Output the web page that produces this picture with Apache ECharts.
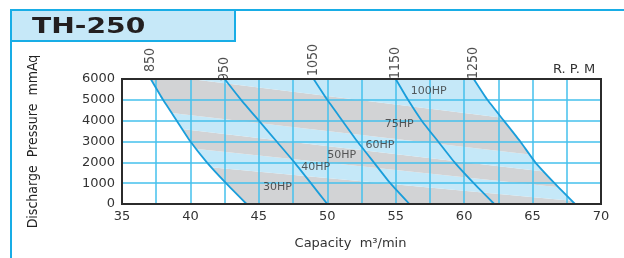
<!DOCTYPE html>
<html>
<head>
<meta charset="utf-8">
<script src="https://cdn.jsdelivr.net/npm/echarts@6/dist/echarts.min.js"></script>
<style>
  html, body { margin: 0; padding: 0; background: #fff; }
  #chart { width: 624px; height: 258px; }
</style>
</head>
<body>
<div id="chart"></div>
<script>
// fan curves: capacity (m3/min) at each discharge pressure (mmAq)
var pressure = [6000, 5000, 4000, 3000, 2000, 1000, 0];
var rpmNames = ['850', '950', '1050', '1150', '1250'];
var cap850 = [37.1, 38.0, 39.0, 40.0, 41.2, 42.6, 44.1];
var cap950 = [42.5, 43.7, 45.0, 46.3, 47.6, 48.8, 50.0];
var cap1050 = [49.0, 50.0, 51.1, 52.2, 53.4, 54.6, 56.0];
var cap1150 = [55.0, 55.9, 56.9, 58.1, 59.3, 60.7, 62.2];
var cap1250 = [60.7, 61.7, 62.9, 64.1, 65.2, 66.6, 68.1];

// motor power bands, bottom to top; each edge is a straight line through two points
var hpNames = ['30HP', '40HP', '50HP', '60HP', '75HP', '100HP'];
var hpEdges = [
  [[39.3, 1900], [68.0, 150]],
  [[39.3, 2720], [63.5, 1040]],
  [[39.3, 3600], [63.5, 1740]],
  [[39.3, 4320], [63.5, 2480]],
  [[40.0, 6000], [63.5, 4080]]
];
var hpLabelAt = [[45.3, 830], [48.1, 1780], [50.0, 2360], [52.8, 2820], [54.2, 3815], [56.1, 5415]];

var xTicks = [35, 40, 45, 50, 55, 60, 65, 70];
var yTicks = [0, 1000, 2000, 3000, 4000, 5000, 6000];

var caps = [cap850, cap950, cap1050, cap1150, cap1250];
var rpmOffset = [2, -7, -2, -5, -5];
var gridBlue = '#45c1ed';
var curveBlue = '#1a9edb';
var bandFill = ['#d2d3d5', '#c5e8f8'];
var narrow = "'Liberation Sans Narrow', 'DejaVu Sans Condensed', sans-serif";

function edgeAt(e, x) {
  return e[0][1] + (e[1][1] - e[0][1]) * (x - e[0][0]) / (e[1][0] - e[0][0]);
}
function curvePoints(c) {
  return c.map(function (v, k) { return [v, pressure[k]]; });
}

var xMin = xTicks[0], xMax = xTicks[xTicks.length - 1];
var yMin = yTicks[0], yMax = yTicks[yTicks.length - 1];

var series = [];

series.push({
  type: 'custom',
  z: 1,
  clip: true,
  silent: true,
  data: hpLabelAt,
  renderItem: function (params, api) {
    var i = params.dataIndex;
    var lo = function (x) { return i === 0 ? yMin - 1000 : edgeAt(hpEdges[i - 1], x); };
    var hi = function (x) { return i === hpNames.length - 1 ? yMax + 3000 : edgeAt(hpEdges[i], x); };
    var pts = [[xMin, lo(xMin)], [xMax, lo(xMax)], [xMax, hi(xMax)], [xMin, hi(xMin)]].map(function (p) {
      return api.coord(p);
    });
    return { type: 'polygon', shape: { points: pts }, style: { fill: bandFill[i % 2] } };
  }
});

// white outside the 850 and 1250 curves
var leftMask = [[xMin, yMax]].concat(curvePoints(cap850), [[xMin, yMin]]);
var rightMask = curvePoints(cap1250).concat([[xMax, yMin], [xMax, yMax]]);
series.push({
  type: 'custom',
  z: 2,
  clip: true,
  silent: true,
  data: [[xMin, yMax], [xMax, yMax]],
  renderItem: function (params, api) {
    var poly = params.dataIndex === 0 ? leftMask : rightMask;
    return {
      type: 'polygon',
      shape: { points: poly.map(function (p) { return api.coord(p); }) },
      style: { fill: '#fff' }
    };
  }
});

caps.forEach(function (c, r) {
  series.push({
    name: rpmNames[r],
    type: 'line',
    z: 4,
    smooth: 0.15,
    symbol: 'none',
    silent: true,
    lineStyle: { color: curveBlue, width: 1.8 },
    data: curvePoints(c)
  });
});

// rpm names above the top of each curve
series.push({
  type: 'scatter',
  z: 5,
  symbolSize: 0,
  silent: true,
  data: caps.map(function (c, r) {
    return {
      value: [c[0], pressure[0]],
      name: rpmNames[r],
      label: { offset: [rpmOffset[r], 0] }
    };
  }),
  label: {
    show: true,
    formatter: '{b}',
    position: 'top',
    distance: 5,
    rotate: 90,
    align: 'left',
    verticalAlign: 'middle',
    fontFamily: narrow,
    fontSize: 14,
    color: '#222'
  }
});

series.push({
  type: 'scatter',
  z: 5,
  symbolSize: 0,
  silent: true,
  data: hpLabelAt.map(function (p, i) { return { value: p, name: hpNames[i] }; }),
  label: {
    show: true,
    position: 'right',
    distance: 0,
    formatter: '{b}',
    fontFamily: 'DejaVu Sans',
    fontSize: 11,
    color: '#333'
  }
});

var chart = echarts.init(document.getElementById('chart'), null, { renderer: 'canvas' });
chart.setOption({
  animation: false,
  backgroundColor: '#fff',
  grid: {
    left: 122, top: 79, width: 479, height: 125,
    show: true, z: 6,
    backgroundColor: 'transparent',
    borderColor: '#2b2b2b', borderWidth: 2
  },
  xAxis: {
    type: 'value',
    min: xMin, max: xMax, interval: 5,
    z: 3,
    name: 'Capacity  m³/min',
    nameLocation: 'middle',
    nameGap: 33,
    nameTextStyle: { fontFamily: 'DejaVu Sans', fontSize: 13, color: '#333', padding: [0, 22, 0, 0] },
    axisLine: { show: false },
    axisTick: { show: false },
    minorTick: { show: false, splitNumber: 2 },
    axisLabel: { fontFamily: 'DejaVu Sans', fontSize: 13, color: '#333', margin: 6 },
    splitLine: { show: true, lineStyle: { color: gridBlue, width: 1.5 } },
    minorSplitLine: { show: true, lineStyle: { color: gridBlue, width: 1.5 } }
  },
  yAxis: {
    type: 'value',
    min: yMin, max: yMax, interval: 1000,
    z: 3,
    name: 'Discharge  Pressure  mmAq',
    nameLocation: 'middle',
    nameRotate: 90,
    nameGap: 82,
    nameTextStyle: { fontFamily: narrow, fontSize: 14, color: '#222' },
    axisLine: { show: false },
    axisTick: { show: false },
    axisLabel: {
      fontFamily: 'DejaVu Sans', fontSize: 13, color: '#333', margin: 7,
      formatter: function (v) { return String(v); }
    },
    splitLine: { show: true, lineStyle: { color: gridBlue, width: 1.5 } }
  },
  graphic: [
    { type: 'line', shape: { x1: 11, y1: 10, x2: 624, y2: 10 }, style: { stroke: '#18ade6', lineWidth: 2 } },
    { type: 'line', shape: { x1: 11, y1: 10, x2: 11, y2: 258 }, style: { stroke: '#18ade6', lineWidth: 2 } },
    { type: 'rect', shape: { x: 11, y: 10, width: 224, height: 31 }, style: { fill: '#c6e8f8', stroke: '#18ade6', lineWidth: 2 } },
    { type: 'text', x: 32, y: 27, scaleX: 1.28, style: { text: 'TH-250', fontFamily: 'DejaVu Sans', fontWeight: 'bold', fontSize: 22, fill: '#231f20', verticalAlign: 'middle' } },
    { type: 'text', x: 553, y: 70, style: { text: 'R. P. M', fontFamily: 'DejaVu Sans', fontSize: 13, fill: '#333', verticalAlign: 'middle' } }
  ],
  series: series
});
</script>
</body>
</html>
